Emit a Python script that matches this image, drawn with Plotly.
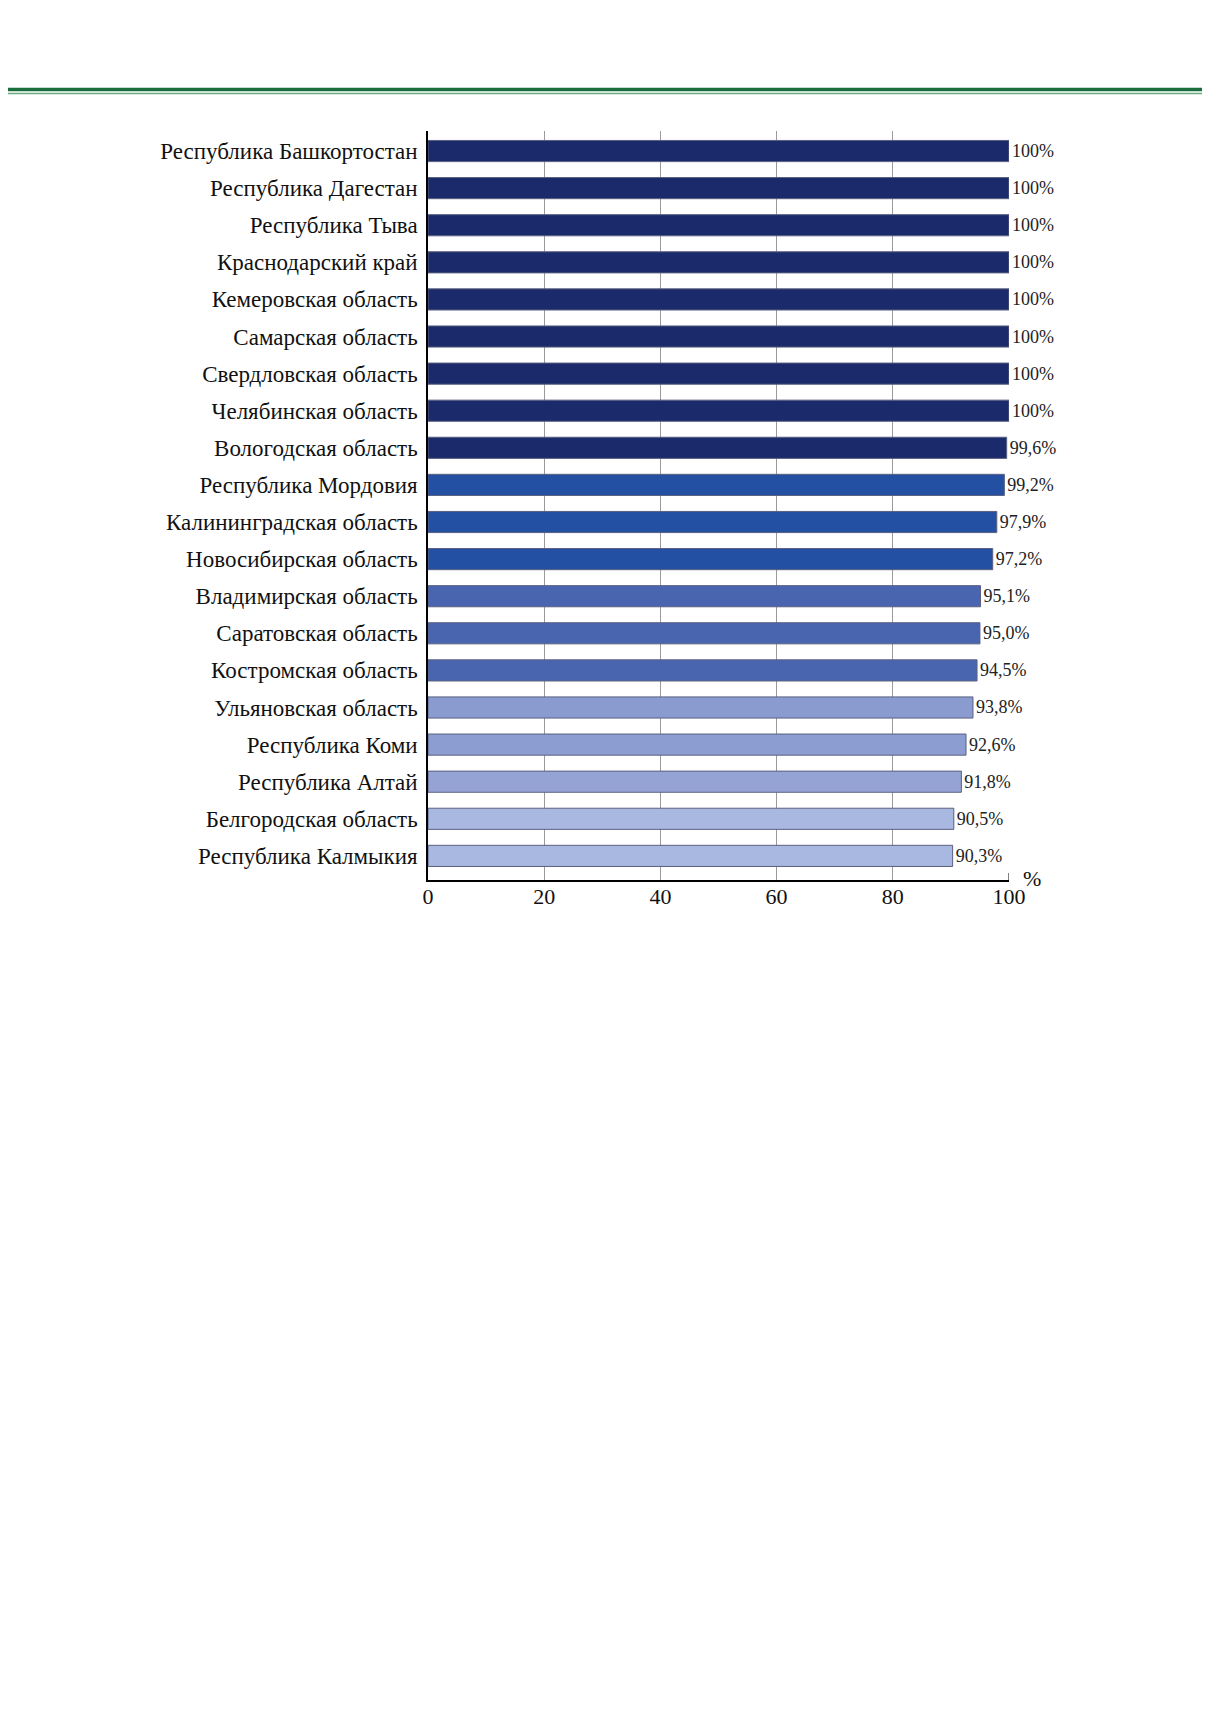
import plotly.graph_objects as go

regions = [
    "Республика Башкортостан", "Республика Дагестан", "Республика Тыва",
    "Краснодарский край", "Кемеровская область", "Самарская область",
    "Свердловская область", "Челябинская область", "Вологодская область",
    "Республика Мордовия", "Калининградская область", "Новосибирская область",
    "Владимирская область", "Саратовская область", "Костромская область",
    "Ульяновская область", "Республика Коми", "Республика Алтай",
    "Белгородская область", "Республика Калмыкия",
]
values = [100, 100, 100, 100, 100, 100, 100, 100, 99.6,
          99.2, 97.9, 97.2, 95.1, 95.0, 94.5, 93.8, 92.6, 91.8, 90.5, 90.3]
x_ticks = [0, 20, 40, 60, 80, 100]

# colour groups as in the original
bar_colors = (["#1b2a6b"] * 9 + ["#2450a3"] * 3 + ["#4a65b0"] * 3
              + ["#8a9bd0", "#8c9dd1", "#95a3d4"] + ["#a9b8e0"] * 2)


def fmt(v):
    if v == 100:
        return "100%"
    return f"{v:.1f}".replace(".", ",") + "%"


labels = [fmt(v) for v in values]
serif = "Liberation Serif, Times New Roman, serif"

fig = go.Figure()
fig.add_trace(go.Bar(
    x=values, y=regions, orientation="h",
    marker=dict(color=bar_colors, line=dict(color="#5a6080", width=1)),
    text=labels, textposition="outside", cliponaxis=False,
    textfont=dict(family=serif, size=18, color="#222"),
    hoverinfo="x+y",
))

W, H = 1210, 1712
L, R, T, B = 420, 209, 123, 840
ph = H - T - B
pw = W - L - R


def py(px):
    return (H - B - px) / ph


def pxr(px):
    return (px - L) / pw


shapes = [
    dict(type="line", xref="paper", yref="paper", x0=pxr(0), x1=pxr(W),
         y0=py(81.6), y1=py(81.6), line=dict(color="#1b6e3c", width=3.5)),
    dict(type="line", xref="paper", yref="paper", x0=pxr(0), x1=pxr(W),
         y0=py(85.4), y1=py(85.4), line=dict(color="#6aaa80", width=1.5)),
    dict(type="line", xref="x", yref="paper", x0=100, x1=100,
         y0=0, y1=7 / ph, line=dict(color="#000", width=1)),
]

fig.update_layout(
    width=W, height=H,
    margin=dict(l=L, r=R, t=T, b=B),
    paper_bgcolor="white", plot_bgcolor="white",
    showlegend=False, bargap=0.43,
    font=dict(family=serif, color="#111"),
    shapes=shapes,
    annotations=[dict(text="%", xref="paper", yref="paper",
                      x=pxr(1024), y=py(870), showarrow=False,
                      xanchor="center", yanchor="middle",
                      font=dict(family=serif, size=22, color="#111"))],
)
fig.update_xaxes(
    range=[0, 100], tickvals=x_ticks, showgrid=True, gridcolor="#9a9a9a",
    gridwidth=1, showline=True, linecolor="#000", linewidth=1.5,
    zeroline=False, ticks="", ticklabelstandoff=-4,
    tickfont=dict(family=serif, size=22, color="#111"),
)
fig.update_yaxes(
    range=[19.65, -0.54], showline=True, linecolor="#000", linewidth=1.5,
    showgrid=False, ticks="", ticklabelstandoff=4,
    tickfont=dict(family=serif, size=23, color="#111"),
)

fig.write_html("out.html")
